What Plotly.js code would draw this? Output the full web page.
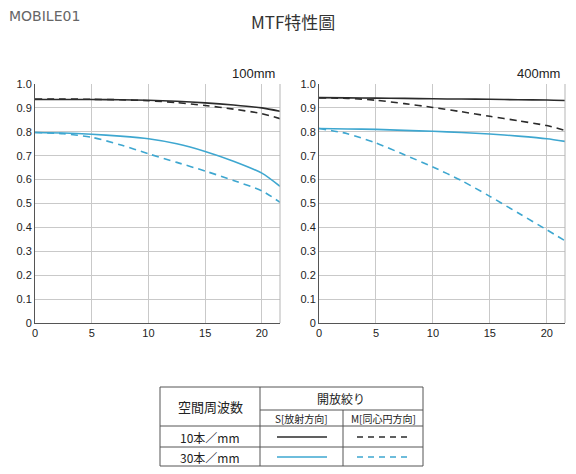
<!DOCTYPE html>
<html><head><meta charset="utf-8">
<script src="https://cdn.plot.ly/plotly-3.0.1.min.js"></script>
<style>html,body{margin:0;padding:0;background:#fff}#c{width:576px;height:474px}</style>
</head><body><div id="c"></div>
<script>
// Data
const freqX = [0, 2.5, 5, 7.5, 10, 12.5, 15, 17.5, 20, 21.6];
const s10_100 = [0.935, 0.935, 0.935, 0.934, 0.932, 0.928, 0.921, 0.912, 0.900, 0.886];
const m10_100 = [0.937, 0.937, 0.936, 0.934, 0.930, 0.922, 0.910, 0.895, 0.876, 0.855];
const s30_100 = [0.797, 0.795, 0.790, 0.782, 0.771, 0.750, 0.718, 0.677, 0.627, 0.572];
const m30_100 = [0.797, 0.792, 0.777, 0.746, 0.708, 0.672, 0.636, 0.596, 0.553, 0.505];
const s10_400 = [0.943, 0.942, 0.941, 0.940, 0.938, 0.937, 0.936, 0.934, 0.933, 0.931];
const m10_400 = [0.942, 0.940, 0.932, 0.918, 0.902, 0.884, 0.865, 0.846, 0.826, 0.806];
const s30_400 = [0.814, 0.812, 0.810, 0.806, 0.802, 0.797, 0.791, 0.782, 0.771, 0.760];
const m30_400 = [0.814, 0.792, 0.753, 0.704, 0.653, 0.596, 0.530, 0.460, 0.390, 0.344];
const yTickVals = [0, 0.1, 0.2, 0.3, 0.4, 0.5, 0.6, 0.7, 0.8, 0.9, 1.0];
const yTickText = ["0", "0.1", "0.2", "0.3", "0.4", "0.5", "0.6", "0.7", "0.8", "0.9", "1.0"];
const xTickVals = [0, 5, 10, 15, 20];
const panelTitles = ["100mm", "400mm"];
const chartTitle = "MTF特性圖";
const tableHeader = ["空間周波数", "開放絞り", "S[放射方向]", "M[同心円方向]"];
const rowLabels = ["10本／mm", "30本／mm"];

const BLACK = "#2b2b2b", BLUE = "#3ea7d0";
const DASH = "7px,5px";
const W = 576, H = 474;
const px = v => v / W, py = v => 1 - v / H;

function tr(y, xa, ya, color, dash) {
  return {x: freqX, y: y, xaxis: xa, yaxis: ya, type: "scatter", mode: "lines",
    line: {color: color, width: 1.6, dash: dash, shape: "spline", smoothing: 0.7},
    hoverinfo: "skip", showlegend: false};
}
const data = [
  tr(s10_100, "x", "y", BLACK, "solid"),
  tr(m10_100, "x", "y", BLACK, DASH),
  tr(s30_100, "x", "y", BLUE, "solid"),
  tr(m30_100, "x", "y", BLUE, DASH),
  tr(s10_400, "x2", "y2", BLACK, "solid"),
  tr(m10_400, "x2", "y2", BLACK, DASH),
  tr(s30_400, "x2", "y2", BLUE, "solid"),
  tr(m30_400, "x2", "y2", BLUE, DASH),
];

const tickFont = {family: "Liberation Sans, Arial, sans-serif", size: 11, color: "#222"};
function xax(dom, anchor) {
  return {domain: dom, anchor: anchor, range: [0, 21.6], tickvals: xTickVals,
    showgrid: true, gridcolor: "#c9c9c9", gridwidth: 1, zeroline: false,
    showline: true, linecolor: "#555", linewidth: 1, ticks: "", tickfont: tickFont, fixedrange: true};
}
function yax(anchor) {
  return {domain: [py(323), py(84)], anchor: anchor, range: [0, 1], tickvals: yTickVals, ticktext: yTickText,
    showgrid: true, gridcolor: "#c9c9c9", gridwidth: 1, zeroline: false,
    showline: true, linecolor: "#555", linewidth: 1, ticks: "", tickfont: tickFont, fixedrange: true};
}

const LC = "#555";
const shapes = [
  {type: "line", xref: "x domain", yref: "y domain", x0: 1, x1: 1, y0: 0, y1: 1, line: {color: "#b5b5b5", width: 1}},
  {type: "line", xref: "x2 domain", yref: "y2 domain", x0: 1, x1: 1, y0: 0, y1: 1, line: {color: "#b5b5b5", width: 1}},
  // table
  {type: "rect", xref: "paper", yref: "paper", x0: px(160), x1: px(423), y0: py(466), y1: py(387), line: {color: LC, width: 1}},
  {type: "line", xref: "paper", yref: "paper", x0: px(260), x1: px(260), y0: py(466), y1: py(387), line: {color: LC, width: 1}},
  {type: "line", xref: "paper", yref: "paper", x0: px(343), x1: px(343), y0: py(466), y1: py(410), line: {color: LC, width: 1}},
  {type: "line", xref: "paper", yref: "paper", x0: px(260), x1: px(423), y0: py(410), y1: py(410), line: {color: LC, width: 1}},
  {type: "line", xref: "paper", yref: "paper", x0: px(160), x1: px(423), y0: py(426), y1: py(426), line: {color: LC, width: 1}},
  {type: "line", xref: "paper", yref: "paper", x0: px(160), x1: px(423), y0: py(447), y1: py(447), line: {color: LC, width: 1}},
  // legend samples
  {type: "line", xref: "paper", yref: "paper", x0: px(277), x1: px(327), y0: py(437), y1: py(437), line: {color: BLACK, width: 1.5}},
  {type: "line", xref: "paper", yref: "paper", x0: px(357), x1: px(410), y0: py(437), y1: py(437), line: {color: BLACK, width: 1.5, dash: "6px,5px"}},
  {type: "line", xref: "paper", yref: "paper", x0: px(277), x1: px(327), y0: py(457), y1: py(457), line: {color: BLUE, width: 1.5}},
  {type: "line", xref: "paper", yref: "paper", x0: px(357), x1: px(410), y0: py(457), y1: py(457), line: {color: BLUE, width: 1.5, dash: "6px,5px"}},
];

const JP = "Noto Sans CJK JP, sans-serif";
function ann(text, x, y, size, family, xanchor, color) {
  return {text: text, xref: "paper", yref: "paper", x: px(x), y: py(y), showarrow: false,
    xanchor: xanchor || "center", yanchor: "middle",
    font: {size: size, family: family || JP, color: color || "#222"}};
}
const annotations = [
  ann(chartTitle, 293, 22, 17, "Noto Sans CJK TC, sans-serif", "center", "#333"),
  ann(panelTitles[0], 277, 74, 13, "Liberation Sans, Arial, sans-serif", "right"),
  ann(panelTitles[1], 562, 74, 13, "Liberation Sans, Arial, sans-serif", "right"),
  ann(tableHeader[0], 210, 406, 13),
  ann(tableHeader[1], 341, 398, 12),
  ann(tableHeader[2], 301, 418, 10),
  ann(tableHeader[3], 383, 418, 10),
  ann(rowLabels[0], 210, 437, 12),
  ann(rowLabels[1], 210, 457, 12),
  ann("MOBILE01", 7, 16, 14, "DejaVu Sans, sans-serif", "left", "#666"),
];

const layout = {
  width: W, height: H, margin: {l: 0, r: 0, t: 0, b: 0},
  paper_bgcolor: "#fff", plot_bgcolor: "#fff", showlegend: false,
  xaxis: xax([px(35), px(280)], "y"),
  yaxis: yax("x"),
  xaxis2: xax([px(319), px(565)], "y2"),
  yaxis2: yax("x2"),
  shapes: shapes, annotations: annotations,
};
Plotly.newPlot("c", data, layout, {staticPlot: true});
</script></body></html>
